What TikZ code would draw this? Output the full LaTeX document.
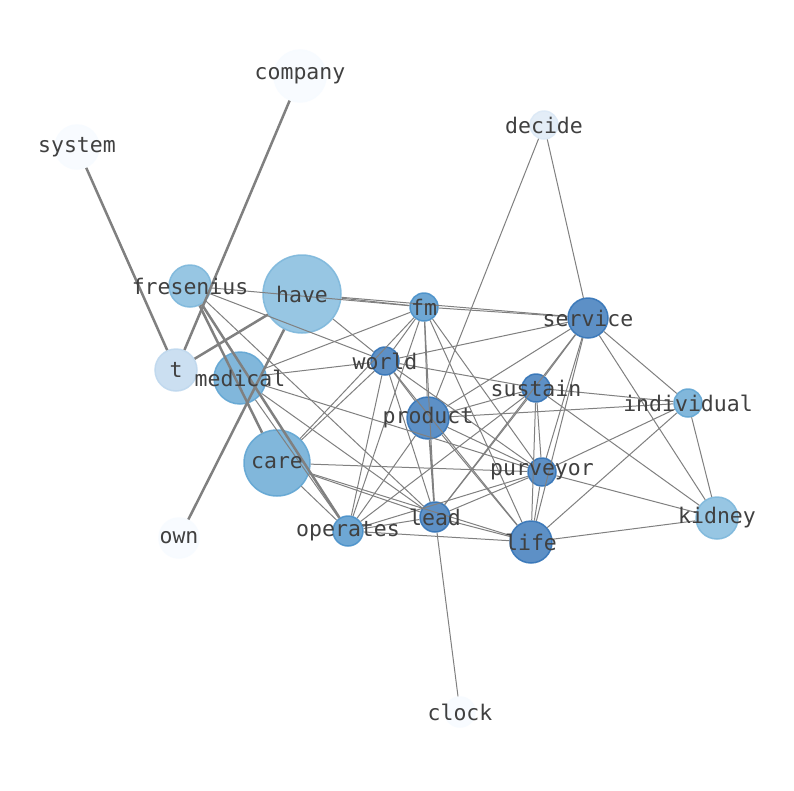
\documentclass[tikz,border=0pt]{standalone}
\usepackage{fontspec}
\setmonofont{DejaVu Sans Mono}
\begin{document}
\begin{tikzpicture}[x=1pt,y=-1pt,
  nd/.style={circle,inner sep=0pt,draw=#1,fill=#1,fill opacity=0.8,draw opacity=0.9,line width=1.5pt},
  lb/.style={font=\fontsize{21.5}{22}\ttfamily,text=black!75},
  ed/.style={draw=black!50,line width=1pt},
  th/.style={draw=black!50,line width=2.5pt}]
\useasboundingbox[fill=white] (0,0) rectangle (794,790);
\definecolor{c0}{HTML}{F7FBFF}
\definecolor{c1}{HTML}{DCE9F6}
\definecolor{c2}{HTML}{BFD8EE}
\definecolor{c3}{HTML}{7EB8DC}
\definecolor{c4}{HTML}{62A6D3}
\definecolor{c5}{HTML}{4A91CA}
\definecolor{c6}{HTML}{3575B8}
\def\N#1#2#3#4#5{\node[nd=#5,minimum size=#4*2pt] (#1) at (#2,#3) {};}
\N{company}{300}{76}{26}{c0}
\N{system}{77}{147}{22}{c0}
\N{decide}{544}{125}{14}{c1}
\N{fresenius}{190}{286}{21}{c3}
\N{have}{302}{294}{39}{c3}
\N{fm}{424}{307}{14}{c5}
\N{service}{588}{318}{20}{c6}
\N{world}{385}{361}{14}{c6}
\N{t}{176}{370}{21}{c2}
\N{medical}{240}{378}{26}{c4}
\N{sustain}{536}{388}{14}{c6}
\N{individual}{688}{403}{14}{c4}
\N{product}{428}{418}{21}{c6}
\N{care}{277}{463}{33}{c4}
\N{purveyor}{542}{472}{14}{c6}
\N{kidney}{717}{518}{21}{c3}
\N{operates}{348}{531}{15}{c5}
\N{lead}{435}{517}{15}{c6}
\N{life}{531}{542}{21}{c6}
\N{own}{179}{538}{20}{c0}
\N{clock}{460}{712}{15}{c0}
\begin{scope}[on background layer/.try]
\end{scope}
\foreach \a/\b in {system/t,company/t,have/t,have/own,fresenius/care,fresenius/operates}
  \draw[th] (\a) -- (\b);
\foreach \a/\b in {fresenius/fm,fresenius/world,fresenius/lead,
  have/fm,have/world,have/service,
  medical/world,medical/fm,medical/lead,medical/operates,medical/purveyor,
  care/world,care/fm,care/purveyor,care/operates,care/lead,care/life,
  fm/world,fm/product,fm/lead,fm/life,fm/purveyor,fm/operates,fm/service,
  world/service,world/sustain,world/product,world/purveyor,world/lead,world/operates,world/life,
  decide/product,decide/service,
  service/product,service/sustain,service/lead,service/purveyor,service/life,service/individual,service/kidney,
  sustain/product,sustain/purveyor,sustain/life,sustain/individual,sustain/kidney,sustain/operates,sustain/lead,
  product/individual,product/purveyor,product/life,product/operates,
  purveyor/individual,purveyor/kidney,purveyor/life,purveyor/lead,purveyor/operates,
  individual/life,individual/kidney,kidney/life,lead/life,operates/life,operates/lead,lead/clock}
  \draw[ed] (\a) -- (\b);
\draw[th,line width=1.6pt] (product) -- (lead);
\foreach \n in {company,system,decide,fresenius,have,fm,service,world,t,medical,sustain,individual,product,care,purveyor,kidney,operates,lead,life,own,clock}
  \node[lb] (\n-l) at (\n) {\n};
\end{tikzpicture}
\end{document}
